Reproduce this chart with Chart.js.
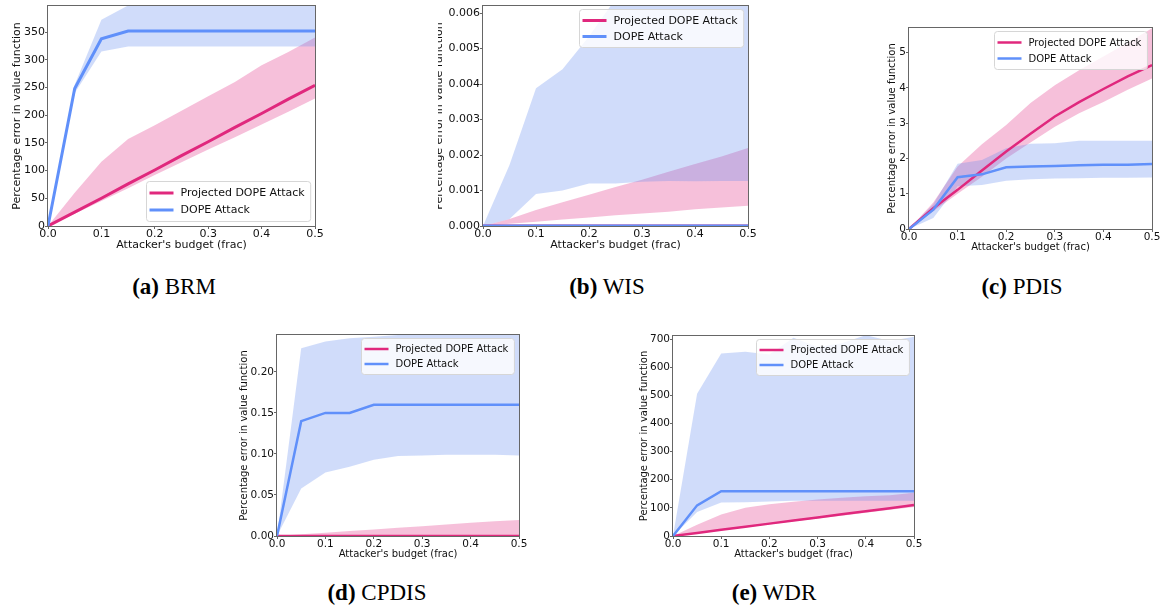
<!DOCTYPE html>
<html><head><meta charset="utf-8">
<script src="https://cdn.jsdelivr.net/npm/chart.js@4.4.1/dist/chart.umd.min.js"></script>
<style>
body{margin:0;background:#fff;width:1164px;height:609px;position:relative;overflow:hidden;}
.wrap{position:absolute;overflow:hidden;}
canvas{position:absolute;}
.cap{position:absolute;font-family:"Liberation Serif","Times New Roman",serif;font-size:23px;line-height:24px;color:#000;transform:translateX(-50%);white-space:nowrap;}
</style></head><body>
<div class="cap" style="left:174px;top:275px"><b>(a)</b> BRM</div>
<div class="cap" style="left:607px;top:275px"><b>(b)</b> WIS</div>
<div class="cap" style="left:1022px;top:275px"><b>(c)</b> PDIS</div>
<div class="cap" style="left:377px;top:581px"><b>(d)</b> CPDIS</div>
<div class="cap" style="left:774px;top:581px"><b>(e)</b> WDR</div>
<script>
// ---------- data ----------
const budget = [0,0.05,0.1,0.15,0.2,0.25,0.3,0.35,0.4,0.45,0.5];
const xTickVals = [0,0.1,0.2,0.3,0.4,0.5];
const seriesNames = ['Projected DOPE Attack','DOPE Attack'];
const xTitle = "Attacker's budget (frac)";
const yTitle = 'Percentage error in value function';

// (a) BRM
const brmProjMean  = [0,25,50,76,101,127,152,178,203,229,254];
const brmProjUpper = [0,60,116,157,182,208,234,260,290,314,340];
const brmProjLower = [0,22,45,68,92,115,138,160,183,206,230];
const brmDopeMean  = [0,248,338,352,352,352,352,352,352,352,352];
const brmDopeUpper = [0,255,372,398,410,412,412,412,412,412,412];
const brmDopeLower = [0,240,315,324,324,324,324,324,324,324,324];
const brmYTicks = [0,50,100,150,200,250,300,350];

// (b) WIS
const wisProjMean  = [0,0,0,0,0,0,0,0,0,0,0];
const wisProjUpper = [0,0.0002,0.00045,0.00067,0.00088,0.0011,0.0013,0.00153,0.00175,0.00196,0.0022];
const wisProjLower = [0,0.00006,0.00012,0.00018,0.00024,0.0003,0.00035,0.0004,0.00047,0.00052,0.00057];
const wisDopeMean  = [0,0,0,0,0,0,0,0,0,0,0];
const wisDopeUpper = [0,0.00172,0.00388,0.00442,0.00534,0.0064,0.0066,0.0068,0.007,0.007,0.007];
const wisDopeLower = [0,0.0002,0.0009,0.001,0.0012,0.0012,0.00125,0.00127,0.00126,0.00127,0.00127];
const wisYTicks = [0,0.001,0.002,0.003,0.004,0.005,0.006];

// (c) PDIS
const pdisProjMean  = [0,0.59,1.11,1.66,2.2,2.7,3.19,3.6,3.97,4.33,4.65];
const pdisProjUpper = [0,0.75,1.77,2.4,2.95,3.57,4.08,4.5,4.89,5.28,5.69];
const pdisProjLower = [0,0.5,1.0,1.48,2.0,2.45,2.9,3.28,3.6,3.95,4.27];
const pdisDopeMean  = [0,0.55,1.47,1.55,1.75,1.77,1.79,1.81,1.82,1.82,1.84];
const pdisDopeUpper = [0,0.7,1.85,1.96,2.29,2.42,2.43,2.5,2.5,2.5,2.5];
const pdisDopeLower = [0,0.31,1.21,1.25,1.37,1.41,1.43,1.44,1.45,1.45,1.46];
const pdisYTicks = [0,1,2,3,4,5];

// (d) CPDIS
const cpdisProjMean  = [0,0,0,0,0,0,0,0,0,0,0];
const cpdisProjUpper = [0,0.002,0.004,0.006,0.008,0.01,0.012,0.014,0.016,0.018,0.0196];
const cpdisProjLower = [0,0,0,0,0,0,0,0,0,0,0];
const cpdisDopeMean  = [0,0.14,0.15,0.15,0.16,0.16,0.16,0.16,0.16,0.16,0.16];
const cpdisDopeUpper = [0,0.229,0.237,0.241,0.243,0.245,0.246,0.246,0.246,0.246,0.246];
const cpdisDopeLower = [0,0.058,0.0775,0.0845,0.093,0.0975,0.098,0.099,0.099,0.099,0.098];
const cpdisYTicks = [0,0.05,0.1,0.15,0.2];

// (e) WDR
const wdrProjMean  = [0,11,22,33,44,55,66,77,88,99,110];
const wdrProjUpper = [0,40,76,100,113,122,130,136,141,145,154];
const wdrProjLower = [0,9,20,31,41,52,62,72,83,93,103];
const wdrDopeMean  = [0,109,159,159,159,159,159,159,159,159,159];
const wdrDopeUpper = [0,506,649,655,645,705,672,685,714,693,708];
const wdrDopeLower = [0,85,119,120,123,125,125,125,125,125,125];
const wdrYTicks = [0,100,200,300,400,500,600,700];

// ---------- styles / layout ----------
const PINK = '#e0287d', BLUE = '#6090fa';
const PINK_FILL = 'rgba(226,60,140,0.32)', BLUE_FILL = 'rgba(100,140,240,0.30)';
const AXIS = '#666';
const PAD_L = 50, PAD_R = 12, PAD_T = 8, PAD_B = 40;

const panels = [
  {L:48,R:315,T:6,B:226,yMax:397,yDec:0,yTicks:brmYTicks,pm:brmProjMean,pu:brmProjUpper,pl:brmProjLower,dm:brmDopeMean,du:brmDopeUpper,dl:brmDopeLower,
   tickFs:11,titleFs:11,legFs:11,legRow:17,legBottom:true,yOff:31,xOff:19,lw:3},
  {L:483,R:748,T:6,B:226,yMax:0.0062,yDec:3,yTicks:wisYTicks,pm:wisProjMean,pu:wisProjUpper,pl:wisProjLower,dm:wisDopeMean,du:wisDopeUpper,dl:wisDopeLower,
   tickFs:11,titleFs:11,legFs:11,legRow:16,legBottom:false,yOff:44,xOff:19,lw:3,clipLeft:438},
  {L:909,R:1152,T:28,B:229,yMax:5.7,yDec:0,yTicks:pdisYTicks,pm:pdisProjMean,pu:pdisProjUpper,pl:pdisProjLower,dm:pdisDopeMean,du:pdisDopeUpper,dl:pdisDopeLower,
   tickFs:10.5,titleFs:10,legFs:10,legRow:16,legBottom:false,yOff:16.5,xOff:18,lw:2.5},
  {L:277,R:519,T:335,B:536,yMax:0.245,yDec:2,yTicks:cpdisYTicks,pm:cpdisProjMean,pu:cpdisProjUpper,pl:cpdisProjLower,dm:cpdisDopeMean,du:cpdisDopeUpper,dl:cpdisDopeLower,
   tickFs:10.5,titleFs:10,legFs:10,legRow:15,legBottom:false,yOff:32.5,xOff:18,lw:2.5},
  {L:673,R:914,T:336,B:536,yMax:711,yDec:0,yTicks:wdrYTicks,pm:wdrProjMean,pu:wdrProjUpper,pl:wdrProjLower,dm:wdrDopeMean,du:wdrDopeUpper,dl:wdrDopeLower,
   tickFs:10.5,titleFs:10,legFs:10,legRow:15,legBottom:false,yOff:29,xOff:18,lw:2.5}
];

const decoPlugin = {
  id:'deco',
  afterDatasetsDraw(chart, args, o){
    const ctx = chart.ctx, a = chart.chartArea;
    ctx.save();
    ctx.strokeStyle = AXIS; ctx.lineWidth = 1;
    ctx.strokeRect(a.left-0.5, a.top-0.5, a.right-a.left+1, a.bottom-a.top+1);
    ctx.restore();
  },
  afterDraw(chart, args, o){
    const ctx = chart.ctx, a = chart.chartArea;
    ctx.save();
    // axis titles
    ctx.fillStyle = '#111';
    ctx.font = o.titleFs + 'px "DejaVu Sans"';
    ctx.textAlign = 'center'; ctx.textBaseline = 'middle';
    ctx.fillText(xTitle, (a.left+a.right)/2, a.bottom + o.xOff);
    ctx.save();
    ctx.translate(a.left - o.yOff, (a.top+a.bottom)/2);
    ctx.rotate(-Math.PI/2);
    ctx.fillText(yTitle, 0, 0);
    ctx.restore();
    // legend
    ctx.font = o.legFs + 'px "DejaVu Sans"';
    const tw = Math.max(...seriesNames.map(n => ctx.measureText(n).width));
    const bw = 3 + 24 + 7 + tw + 6, bh = o.legRow*2 + 6;
    const bx = Math.round(a.right - 5 - bw) + 0.5;
    const by = Math.round(o.legBottom ? a.bottom - 5 - bh : a.top + 3) + 0.5;
    ctx.beginPath();
    ctx.roundRect(bx, by, bw, bh, 3);
    ctx.fillStyle = 'rgba(255,255,255,0.8)'; ctx.fill();
    ctx.strokeStyle = '#d6d6d6'; ctx.lineWidth = 1; ctx.stroke();
    const cols = [PINK, BLUE];
    seriesNames.forEach((n,i) => {
      const y = by + 3 + o.legRow*(i+0.5);
      ctx.strokeStyle = cols[i]; ctx.lineWidth = o.lw;
      ctx.beginPath(); ctx.moveTo(bx+3, y); ctx.lineTo(bx+27, y); ctx.stroke();
      ctx.fillStyle = '#111'; ctx.textAlign = 'left'; ctx.textBaseline = 'middle';
      ctx.fillText(n, bx+34, y+0.5);
    });
    ctx.restore();
  }
};

function makePanel(p){
  const W = p.R - p.L + PAD_L + PAD_R, H = p.B - p.T + PAD_T + PAD_B;
  const cl = p.L - PAD_L, ct = p.T - PAD_T;
  const wl = (p.clipLeft !== undefined) ? p.clipLeft : cl;
  const wrap = document.createElement('div'); wrap.className = 'wrap';
  wrap.style.left = wl + 'px'; wrap.style.top = ct + 'px';
  wrap.style.width = (cl + W - wl) + 'px'; wrap.style.height = H + 'px';
  const cv = document.createElement('canvas');
  cv.width = W; cv.height = H; cv.style.width = W+'px'; cv.style.height = H+'px';
  cv.style.left = (cl - wl) + 'px'; cv.style.top = '0px';
  wrap.appendChild(cv); document.body.appendChild(wrap);
  const pts = arr => budget.map((x,i) => ({x:x, y:arr[i]}));
  const band = (arr, fill, bg, order) => ({data:pts(arr), borderWidth:0, borderColor:'transparent', pointRadius:0, fill:fill, backgroundColor:bg, order:order});
  const tickFont = {family:'DejaVu Sans', size:p.tickFs};
  new Chart(cv, {
    type:'line',
    data:{datasets:[
      band(p.pl, false, 'transparent', 3),
      band(p.pu, '-1', PINK_FILL, 3),
      band(p.dl, false, 'transparent', 2),
      band(p.du, '-1', BLUE_FILL, 2),
      {label:seriesNames[0], data:pts(p.pm), borderColor:PINK, borderWidth:p.lw, pointRadius:0, fill:false, order:1},
      {label:seriesNames[1], data:pts(p.dm), borderColor:BLUE, borderWidth:p.lw, pointRadius:0, fill:false, order:0}
    ]},
    options:{
      responsive:false, animation:false, devicePixelRatio:1,
      layout:{padding:{left:0, right:PAD_R, top:PAD_T, bottom:0}},
      elements:{line:{tension:0}},
      plugins:{legend:{display:false}, tooltip:{enabled:false}, deco:p},
      scales:{
        x:{type:'linear', min:0, max:0.5,
           afterBuildTicks: s => { s.ticks = xTickVals.map(v => ({value:v})); },
           afterFit: s => { s.height = PAD_B; },
           grid:{display:true, drawOnChartArea:false, tickLength:3, color:AXIS, lineWidth:1},
           border:{display:false},
           ticks:{font:tickFont, color:'#111', padding:-1, maxRotation:0, autoSkip:false, callback: v => Number(v).toFixed(1)}},
        y:{type:'linear', min:0, max:p.yMax,
           afterBuildTicks: s => { s.ticks = p.yTicks.map(v => ({value:v})); },
           afterFit: s => { s.width = PAD_L; },
           grid:{display:true, drawOnChartArea:false, tickLength:3, color:AXIS, lineWidth:1},
           border:{display:false},
           ticks:{font:tickFont, color:'#111', padding:0, autoSkip:false, callback: v => Number(v).toFixed(p.yDec)}}
      }
    },
    plugins:[decoPlugin]
  });
}
panels.forEach(makePanel);
</script>
</body></html>
